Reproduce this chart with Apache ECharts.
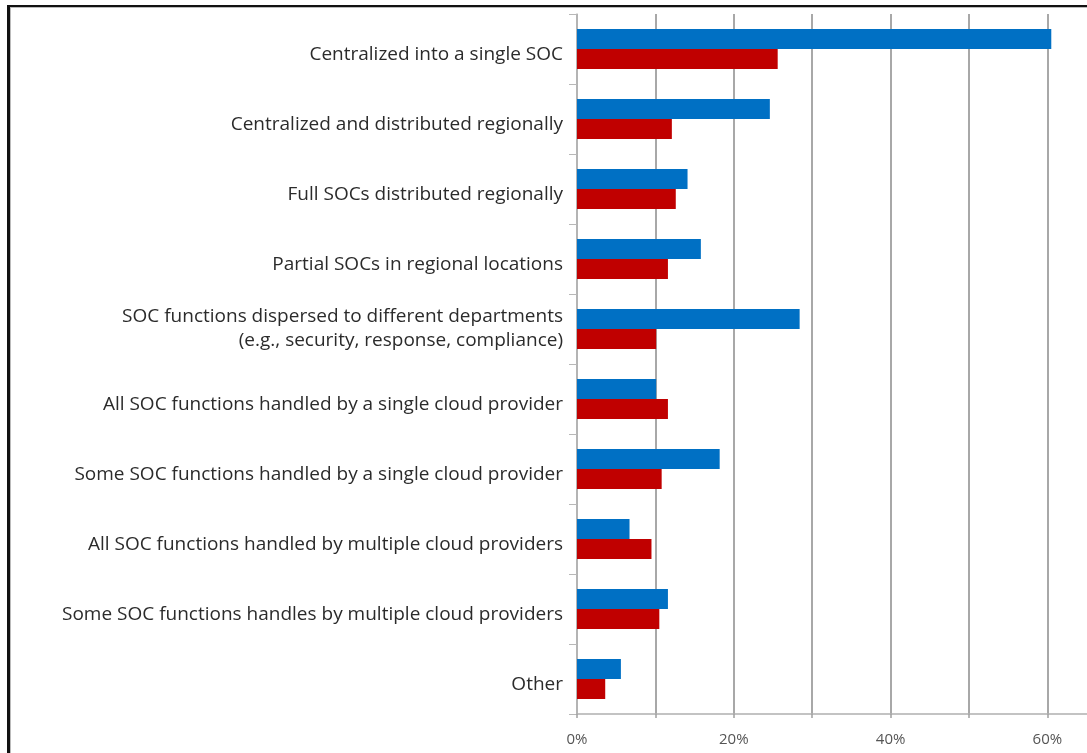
<!DOCTYPE html>
<html>
<head>
<meta charset="utf-8">
<script src="https://cdn.jsdelivr.net/npm/echarts@6/dist/echarts.min.js"></script>
<style>
html,body{margin:0;padding:0;background:#fff;}
#chart{position:absolute;left:0;top:0;width:1087px;height:753px;}
#frame{position:absolute;left:7px;top:5px;width:1090px;height:760px;border-top:2px solid #111;border-left:3px solid #111;pointer-events:none;box-shadow:inset 1px 1px 0 #bbb;}
</style>
</head>
<body>
<div id="chart"></div>
<div id="frame"></div>
<script>
const categories = [
  "Centralized into a single SOC",
  "Centralized and distributed regionally",
  "Full SOCs distributed regionally",
  "Partial SOCs in regional locations",
  "SOC functions dispersed to different departments\n(e.g., security, response, compliance)",
  "All SOC functions handled by a single cloud provider",
  "Some SOC functions handled by a single cloud provider",
  "All SOC functions handled by multiple cloud providers",
  "Some SOC functions handles by multiple cloud providers",
  "Other"
];
const blueValues = [60.5, 24.6, 14.1, 15.8, 28.4, 10.1, 18.2, 6.7, 11.6, 5.6];
const redValues  = [25.6, 12.1, 12.6, 11.6, 10.1, 11.6, 10.8, 9.5, 10.5, 3.6];
const tickStep = 10;
const labelEvery = 20;

const labelFont = {fontFamily: 'Open Sans', fontSize: 19, color: '#2b2b2b', lineHeight: 24};
const chart = echarts.init(document.getElementById('chart'), null, {renderer: 'canvas'});
chart.setOption({
  animation: false,
  backgroundColor: '#fff',
  grid: {left: 577, top: 14, bottom: 39, right: -7.4, containLabel: false, outerBoundsMode: 'none'},
  xAxis: {
    type: 'value', min: 0, max: 66, interval: tickStep,
    axisLine: {show: true, lineStyle: {color: '#b0b0b0', width: 1.5}},
    axisTick: {show: true, length: 4, lineStyle: {color: '#a0a0a0', width: 1.5}},
    splitLine: {show: true, lineStyle: {color: '#a8a8a8', width: 2}},
    axisLabel: {
      margin: 18, fontFamily: 'Open Sans', fontSize: 15, color: '#555',
      formatter: v => (v % labelEvery === 0 && v <= 60) ? v + '%' : ''
    }
  },
  yAxis: {
    type: 'category', data: categories, inverse: true,
    axisLine: {show: true, lineStyle: {color: '#b8b8b8', width: 1.5}},
    axisTick: {show: true, length: 8, lineStyle: {color: '#b8b8b8', width: 1}},
    axisLabel: Object.assign({
      margin: 14, align: 'right',
      formatter: v => {
        const lines = v.split('\n');
        if (lines.length === 1) return '{f|' + v + '}';
        return lines.map(l => '{a|' + l + '}').join('\n');
      },
      rich: {
        f: Object.assign({padding: [12, 0, 0, 0]}, labelFont),
        a: Object.assign({}, labelFont)
      }
    }, labelFont)
  },
  series: [
    {name: 'Blue', type: 'bar', data: blueValues, barWidth: 20, barGap: '0%', itemStyle: {color: '#0070c4'}},
    {name: 'Red', type: 'bar', data: redValues, barWidth: 20, barGap: '0%', itemStyle: {color: '#c00000'}}
  ]
});
</script>
</body>
</html>
